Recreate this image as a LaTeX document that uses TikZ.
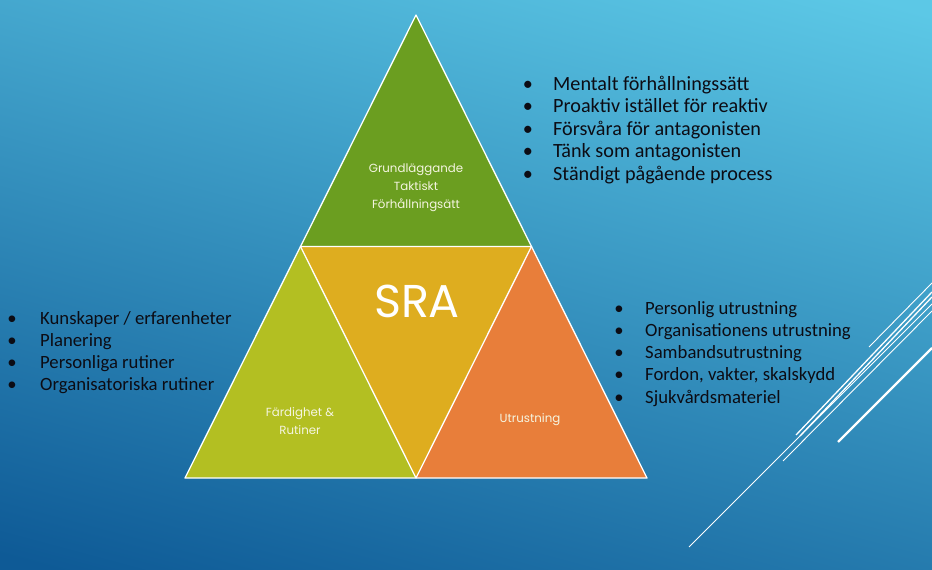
\documentclass[tikz,border=0pt]{standalone}
\usepackage{fontspec}
\setmainfont{Carlito}
\newfontfamily\geofont{Poppins}
\definecolor{bgtop}{RGB}{92,200,230}
\definecolor{bgmid}{RGB}{45,145,195}
\definecolor{bgbot}{RGB}{14,90,150}
\definecolor{trigreen}{RGB}{107,158,32}
\definecolor{trilime}{RGB}{179,191,34}
\definecolor{trigold}{RGB}{222,173,31}
\definecolor{triorange}{RGB}{232,126,58}
\definecolor{lbltext}{RGB}{245,245,225}
\definecolor{itemtext}{RGB}{12,12,20}
\begin{document}
\begin{tikzpicture}[x=1pt,y=-1pt,
  tri/.style={draw=white, line width=1.3pt, line join=round},
  lbl/.style={text=lbltext, font=\geofont\fontsize{11.8}{18}\selectfont, align=center, inner sep=0pt},
  item/.style={anchor=base west, text=itemtext, font=\fontsize{18.7}{22}\selectfont, inner sep=0pt},
  bul/.style={anchor=base, text=itemtext, font=\fontsize{18.7}{22}\selectfont, inner sep=0pt},
  itembig/.style={item, font=\fontsize{20.2}{22}\selectfont},
  bulbig/.style={bul, font=\fontsize{20.2}{22}\selectfont},
  deco/.style={draw=white, line width=0.9pt},
  decothick/.style={draw=white, line width=2.4pt}]
\useasboundingbox (0,0) rectangle (932,570);
\shade[top color=bgtop, middle color=bgmid, bottom color=bgbot, shading angle=-15] (-60,-60) rectangle (992,630);
% triangle corners
\coordinate (apex) at (416,15);
\coordinate (bl) at (185,478);
\coordinate (br) at (647,478);
\coordinate (ml) at (300.5,246.5);
\coordinate (mr) at (531.5,246.5);
\coordinate (mb) at (416,478);
\fill[trigreen] (apex) -- (ml) -- (mr) -- cycle;
\fill[trilime] (ml) -- (bl) -- (mb) -- cycle;
\fill[trigold] (ml) -- (mr) -- (mb) -- cycle;
\fill[triorange] (mr) -- (mb) -- (br) -- cycle;
\draw[tri] (apex) -- (bl) -- (br) -- cycle;
\draw[tri] (ml) -- (mr) -- (mb) -- cycle;
% labels
\node[lbl] (top) at (416,188) {Grundläggande\\Taktiskt\\Förhållningsätt};
\node[lbl] (left) at (300,421) {Färdighet \&\\Rutiner};
\node[lbl] (right) at (530,420) {Utrustning};
\node[text=white, font=\geofont\fontsize{46}{46}\selectfont, inner sep=0pt] (sra) at (417,301) {SRA};
% top-right list
\foreach \t [count=\i] in {Mentalt förhållningssätt, Proaktiv istället för reaktiv, Försvåra för antagonisten, Tänk som antagonisten, Ständigt pågående process}{
  \node[bulbig] (tb\i) at (528,{83+22.5*(\i-1)+7}) {\textbullet};
  \node[itembig] (tt\i) at (553,{83+22.5*(\i-1)+7}) {\t};
}
% left list
\foreach \t [count=\i] in {Kunskaper / erfarenheter, Planering, Personliga rutiner, Organisatoriska rutiner}{
  \node[bul] (lb\i) at (12,{318+22.3*(\i-1)+6}) {\textbullet};
  \node[item] (lt\i) at (40,{318+22.3*(\i-1)+6}) {\t};
}
% right list
\foreach \t [count=\i] in {Personlig utrustning, Organisationens utrustning, Sambandsutrustning, {Fordon, vakter, skalskydd}, Sjukvårdsmateriel}{
  \node[bul] (rb\i) at (619,{308+22.3*(\i-1)+6}) {\textbullet};
  \node[item] (rt\i) at (645,{308+22.3*(\i-1)+6}) {\t};
}
% decorative lines
\coordinate (a1) at (869,347); \coordinate (a2) at (932,283);
\coordinate (b1) at (796,435); \coordinate (b2) at (932,292);
\coordinate (c1) at (800,436); \coordinate (c2) at (932,297);
\coordinate (e1) at (689,547); \coordinate (e2) at (932,304);
\coordinate (f1) at (783,461); \coordinate (f2) at (932,311);
\coordinate (d1) at (838,442); \coordinate (d2) at (932,348);
\draw[deco] (a1) -- (a2);
\draw[deco, line width=1.3pt] (b1) -- (b2);
\draw[deco, line width=1.3pt] (c1) -- (c2);
\draw[deco] (e1) -- (e2);
\draw[deco] (f1) -- (f2);
\draw[decothick] (d1) -- (d2);
\end{tikzpicture}
\end{document}
